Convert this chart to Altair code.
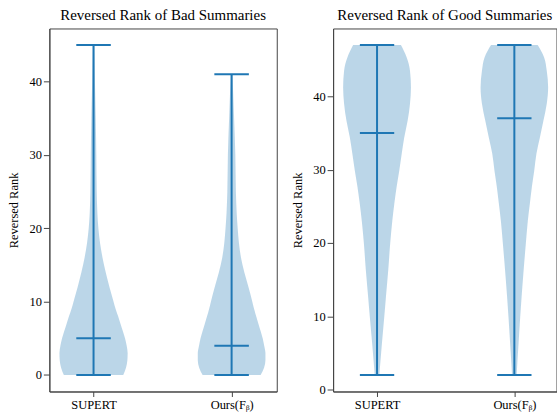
import altair as alt
import pandas as pd

BLUE = "#1f77b4"
FRAME = "#444444"
FONT = "Liberation Serif"

group_names = ["SUPERT", "Ours(Fᵦ)"]
group_pos = [1, 2]

# ---- Bad summaries: violin outlines (value, half-width in x units) ----
bad_supert_v = [0, 1, 2, 3, 4, 5, 6, 7, 8, 9, 10, 12, 14, 16, 18, 20, 22, 25, 30, 35, 40, 45]
bad_supert_w = [0.215, 0.235, 0.245, 0.247, 0.240, 0.228, 0.212, 0.195, 0.178, 0.160, 0.145,
                0.115, 0.088, 0.065, 0.047, 0.035, 0.028, 0.023, 0.020, 0.016, 0.010, 0.005]
bad_ours_v = [0, 1, 2, 3, 4, 5, 6, 7, 8, 9, 10, 12, 14, 16, 18, 20, 22, 25, 30, 35, 41]
bad_ours_w = [0.210, 0.235, 0.245, 0.245, 0.236, 0.225, 0.210, 0.194, 0.178, 0.163, 0.150,
              0.122, 0.092, 0.068, 0.053, 0.044, 0.037, 0.031, 0.027, 0.018, 0.006]
bad_min = [0, 0]
bad_max = [45, 41]
bad_med = [5, 4]

# ---- Good summaries ----
good_v = [2, 3.7, 6.4, 10, 12.7, 16.4, 20, 23, 25.4, 27.7, 29.9, 32.2, 34.4, 36.7, 39, 41.2, 43.5, 45.3, 47]
good_supert_w = [0.017, 0.024, 0.036, 0.053, 0.065, 0.082, 0.096, 0.111, 0.126, 0.143, 0.162,
                 0.180, 0.198, 0.223, 0.240, 0.247, 0.240, 0.216, 0.174]
good_ours_w = [0.017, 0.022, 0.031, 0.043, 0.053, 0.068, 0.084, 0.098, 0.113, 0.128, 0.145,
               0.161, 0.186, 0.212, 0.236, 0.246, 0.236, 0.217, 0.170]
good_min = [2, 2]
good_max = [47, 47]
good_med = [35, 37]

y_ticks = [0, 10, 20, 30, 40]


def profile_df(vals_list, w_list):
    rows = []
    for n, p, vs, ws in zip(group_names, group_pos, vals_list, w_list):
        for v, w in zip(vs, ws):
            rows.append({"g": n, "pos": p, "v": v, "w": w})
    return pd.DataFrame(rows)


def caps_df(mins, maxs, meds):
    rows = []
    for n, p, a, b, m in zip(group_names, group_pos, mins, maxs, meds):
        for val in (a, b, m):
            rows.append({"g": n, "pos": p, "val": val})
    return pd.DataFrame(rows)


def stem_df(mins, maxs):
    return pd.DataFrame({"g": group_names, "pos": group_pos, "lo": mins, "hi": maxs})


label_expr = "datum.value == 1 ? 'SUPERT' : 'Ours(Fᵦ)'"


def panel(title, prof, caps, stems, ydom, xdom, width):
    xscale = alt.Scale(domain=xdom, nice=False, zero=False)
    yscale = alt.Scale(domain=ydom, nice=False, zero=False)
    xaxis = alt.Axis(values=group_pos, labelExpr=label_expr, title=None,
                     domainColor=FRAME, tickSize=5, labelPadding=2)
    yaxis = alt.Axis(values=y_ticks, title="Reversed Rank", domainColor=FRAME,
                     tickSize=6, labelPadding=2, titlePadding=8)

    area = alt.Chart(prof).transform_calculate(
        lft="datum.pos - datum.w", rgt="datum.pos + datum.w"
    ).mark_area(orient="horizontal", color=BLUE, opacity=0.3, interpolate="monotone").encode(
        y=alt.Y("v:Q", scale=yscale, axis=yaxis),
        x=alt.X("lft:Q", scale=xscale, axis=xaxis),
        x2="rgt:Q",
        detail="g:N",
    )
    stem = alt.Chart(stems).mark_rule(color=BLUE, strokeWidth=2).encode(
        x=alt.X("pos:Q", scale=xscale, axis=xaxis),
        y=alt.Y("lo:Q", scale=yscale, axis=yaxis),
        y2="hi:Q",
    )
    cap = alt.Chart(caps).transform_calculate(
        lft="datum.pos - 0.125", rgt="datum.pos + 0.125"
    ).mark_rule(color=BLUE, strokeWidth=2).encode(
        x=alt.X("lft:Q", scale=xscale, axis=xaxis),
        x2="rgt:Q",
        y=alt.Y("val:Q", scale=yscale, axis=yaxis),
    )
    return alt.layer(area, stem, cap).properties(
        width=width, height=364,
        title=alt.Title(title, fontSize=15, font=FONT, fontWeight="normal", color="black",
                        frame="group", anchor="middle", offset=6),
    )


left = panel("Reversed Rank of Bad Summaries",
             profile_df([bad_supert_v, bad_ours_v], [bad_supert_w, bad_ours_w]),
             caps_df(bad_min, bad_max, bad_med), stem_df(bad_min, bad_max),
             [-2.25, 47.25], [0.68, 2.327], 228)
right = panel("Reversed Rank of Good Summaries",
              profile_df([good_v, good_v], [good_supert_w, good_ours_w]),
              caps_df(good_min, good_max, good_med), stem_df(good_min, good_max),
              [-0.25, 49.25], [0.68, 2.307], 224)

chart = alt.hconcat(left, right, spacing=13.5).properties(
    padding={"left": 7.5, "top": 6, "right": 0, "bottom": 0},
    background="white",
).configure_view(
    stroke=FRAME, strokeWidth=1,
).configure_axis(
    grid=False,
    labelFont=FONT, labelFontSize=12.5, labelColor="black",
    titleFont=FONT, titleFontSize=12.5, titleFontWeight="normal", titleColor="black",
    tickColor=FRAME, domainWidth=1,
)

chart.save("out.html", embed_options={"renderer": "svg", "actions": False})
